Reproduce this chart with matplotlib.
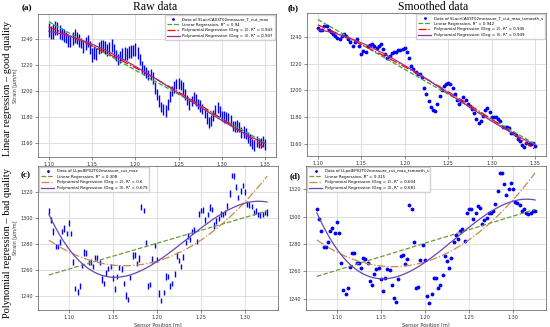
import numpy as np
import matplotlib
matplotlib.use("Agg")
import matplotlib.pyplot as plt
from matplotlib.lines import Line2D

# sensor positions [m]
pos_good = np.linspace(1.10, 1.35, 101)
pos_bad = np.linspace(1.0775, 1.325, 100)

# time-smoothed strain per position, good sample [µm/m]
good_smooth = [
    1246.5, 1245, 1245.5, 1248.5, 1248, 1245, 1243.5, 1242.5, 1241, 1239,
    1238.5, 1240.5, 1242, 1240.5, 1238.5, 1236.5, 1233.5, 1236, 1238.5, 1233,
    1227.5, 1229.5, 1228.5, 1233, 1234, 1234.5, 1233, 1231.5, 1233, 1234.5,
    1231, 1227, 1224, 1226, 1228, 1229, 1228.5, 1230, 1230, 1231,
    1232, 1229, 1224, 1218.5, 1216, 1214, 1212, 1212.5, 1210, 1202,
    1197, 1192, 1187.5, 1185.5, 1184.5, 1189.5, 1195.5, 1200, 1203, 1205,
    1205.5, 1204.5, 1202, 1197, 1193, 1190, 1192, 1195, 1193, 1190,
    1188, 1186, 1183, 1179, 1175.5, 1177, 1181, 1185, 1187, 1184,
    1180.5, 1180, 1180, 1179, 1177, 1173, 1172.5, 1173, 1172, 1168,
    1168.5, 1167, 1164, 1162, 1159, 1158, 1161, 1160, 1160, 1161,
    1158.5,
]

# half height of each raw cluster (all samples at one position), good sample
good_raw_half = [
    5.5, 5, 6, 5.5, 5, 5.5, 4.5, 5, 4.5, 5,
    4.5, 5, 5.5, 4.5, 5, 4, 4.5, 5, 4.5, 5,
    5.5, 5, 4.5, 4.5, 5, 4.5, 5, 4.5, 4.5, 5,
    5, 4.5, 4, 4.5, 4.5, 5, 4.5, 4.5, 5, 4.5,
    5, 4.5, 4, 4.5, 4, 4.5, 4, 4, 4.5, 4.5,
    4, 4.5, 4, 4.5, 4.5, 4, 4.5, 4, 4.5, 4,
    4.5, 4, 4.5, 4, 4, 4.5, 4, 4, 4.5, 4,
    4.5, 4, 4, 4.5, 4, 4, 4.5, 4, 4.5, 4,
    4, 4.5, 4, 4, 4.5, 4, 4, 4.5, 4, 4,
    4.5, 4, 4, 4.5, 4, 4, 4.5, 4, 4, 4.5,
    4,
]

# time-smoothed strain per position, bad sample [µm/m]
bad_smooth = [
    1305.4, 1298.5, 1289.5, 1278, 1278, 1281.5, 1289.5, 1292, 1288.3, 1296,
    1287.8, 1266.3, 1246.3, 1243.2, 1248, 1263.4, 1273.7, 1273.2, 1265.9, 1266.3,
    1262.7, 1270, 1269.3, 1265.9, 1252.9, 1249.8, 1257.8, 1261.5, 1262.7, 1254.1,
    1245.6, 1255.4, 1262, 1261, 1249.8, 1240.7, 1237.6, 1254.6, 1271.2, 1271.7,
    1265.1, 1268.8, 1308.3, 1305.4, 1281.5, 1248, 1248.8, 1268.3, 1279, 1268.3,
    1242.4, 1236.6, 1243.2, 1255.4, 1255.4, 1248, 1249.8, 1257.1, 1271.2, 1267.6,
    1262.7, 1270, 1281.5, 1286.3, 1283.4, 1289.5, 1290.7, 1282.2, 1302.9, 1305.9,
    1305.9, 1298.5, 1302.4, 1307.8, 1306.6, 1294.4, 1297.6, 1299.3, 1302.9, 1302.9,
    1304.1, 1309, 1318.8, 1332.2, 1332.2, 1323.7, 1315.6, 1320.5, 1324.9, 1320,
    1310.7, 1309.8, 1308.5, 1304.1, 1305.4, 1302.9, 1302.2, 1302.9, 1304.1, 1304.1,
]

bad_raw_half = [
    2.5, 2, 2.5, 2, 2, 2.5, 2, 2.5, 2, 2.5,
    2, 2.5, 2, 2.5, 2.5, 2, 2.5, 2, 2, 2.5,
    2, 2, 2.5, 2, 2.5, 2, 2.5, 2, 2, 2.5,
    2.5, 2, 2, 2.5, 2, 2.5, 2, 2, 2.5, 2,
    2, 2.5, 2.5, 2, 2, 2.5, 2, 2.5, 2, 2,
    2.5, 2, 2, 2.5, 2, 2.5, 2, 2, 2.5, 2,
    2, 2.5, 2, 2.5, 2, 2, 2.5, 2, 2.5, 2,
    2.5, 2, 2, 2.5, 2, 2.5, 2, 2, 2.5, 2,
    2, 2.5, 2.5, 2, 2.5, 2, 2, 2.5, 2, 2.5,
    2, 2.5, 2, 2, 2.5, 2, 2.5, 2, 2, 2.5,
]

names = ["SLacrCA03T02measure_T_cut_max",
         "SLacrCA03T02measure_T_cut_max_tsmooth_s",
         "LLpolEP02T02measure_cut_max",
         "LLpolEP02T02measure_cut_max_tsmooth_s"]
r2_values = [["0.94", "0.943", "0.947"],
             ["0.942", "0.945", "0.949"],
             ["0.308", "0.6", "0.679"],
             ["0.315", "0.604", "0.681"]]

col_titles = ["Raw data", "Smoothed data"]
row_titles = ["Linear regression – good quality",
              "Polynomial regression – bad quality"]

SERIF = ["Liberation Serif", "DejaVu Serif"]
plt.rcParams["font.family"] = ["DejaVu Sans"]


def draw_panel(ax, x, y, half, name, r2, cols, legend_loc):
    x = np.asarray(x)
    y = np.asarray(y, dtype=float)
    if half is not None:
        half = np.asarray(half)
        ax.vlines(x, y - half, y + half, color="blue", lw=1.0, zorder=3)
    else:
        ax.plot(x, y, ".", color="blue", ms=3.5, zorder=3)
    xs = np.linspace(x.min(), x.max(), 300)
    styles = ["--", "-.", "-"]
    labels = ["Linear Regression, R² = %s" % r2[0],
              "Polynomial Regression (Deg = 2), R² = %s" % r2[1],
              "Polynomial Regression (Deg = 3), R² = %s" % r2[2]]
    handles = [Line2D([], [], ls="none", marker=".", ms=2, color="blue")]
    for deg in range(1, 4):
        coef = np.polyfit(x, y, deg)
        ln, = ax.plot(xs, np.polyval(coef, xs), ls=styles[deg - 1],
                      color=cols[deg - 1], lw=0.9, zorder=4)
        handles.append(ln)
    ax.legend(handles, ["Data of " + name] + labels, loc=legend_loc,
              fontsize=2.9, handlelength=3.2, handletextpad=0.6,
              borderpad=0.5, labelspacing=0.4, borderaxespad=0.3,
              edgecolor="#cccccc", framealpha=0.9, fancybox=False)
    ax.grid(True, color="#d9d9d9", lw=0.6)
    ax.set_axisbelow(True)
    ax.tick_params(labelsize=3.5, length=2, width=0.4, pad=1.5,
                   colors="#333333")
    for s in ax.spines.values():
        s.set_linewidth(0.5)
        s.set_color("#555555")


fig = plt.figure(figsize=(5.5, 3.27), dpi=100)
W, H = 550.0, 327.0


def rect(l, r, t, b):
    return [l / W, 1 - b / H, (r - l) / W, (b - t) / H]


ax_a = fig.add_axes(rect(38, 276, 14, 157))
ax_b = fig.add_axes(rect(307, 546, 13, 156))
ax_c = fig.add_axes(rect(38, 278, 166, 310))
ax_d = fig.add_axes(rect(306, 546, 166, 310))

good_cols = ["#33aa33", "red", "#9a2a9a"]
bad_cols = ["#6f9a35", "#c98a4b", "#6a45b0"]

draw_panel(ax_a, pos_good, good_smooth, good_raw_half, names[0], r2_values[0],
           good_cols, "upper right")
draw_panel(ax_b, pos_good, good_smooth, None, names[1], r2_values[1],
           good_cols, "upper right")
draw_panel(ax_c, pos_bad, bad_smooth, bad_raw_half, names[2], r2_values[2],
           bad_cols, "upper left")
draw_panel(ax_d, pos_bad, bad_smooth, None, names[3], r2_values[3],
           bad_cols, "upper left")

for ax in (ax_a, ax_b):
    ax.set_yticks([1160, 1180, 1200, 1220, 1240])
    ax.set_xticks([1.10, 1.15, 1.20, 1.25, 1.30, 1.35])
for ax in (ax_c, ax_d):
    ax.set_yticks([1240, 1260, 1280, 1300, 1320])
    ax.set_xticks([1.10, 1.15, 1.20, 1.25, 1.30])
    ax.set_xlabel("Sensor Position [m]", fontsize=3.5, labelpad=1.5,
                  color="#333333")
for ax in (ax_a, ax_c):
    ax.set_ylabel("Strain [µm/m]", fontsize=3.5, labelpad=2, color="#333333")

fig.text(155 / W, 1 - 7 / H, col_titles[0], ha="center", va="center",
         fontsize=8.5, family=SERIF)
fig.text(433 / W, 1 - 7 / H, col_titles[1], ha="center", va="center",
         fontsize=8.5, family=SERIF)
fig.text(8 / W, 1 - 88 / H, row_titles[0], ha="center", va="center",
         rotation=90, fontsize=7.5, family=SERIF)
fig.text(8 / W, 1 - 243 / H, row_titles[1], ha="center", va="center",
         rotation=90, fontsize=7.5, family=SERIF)
for lab, xx, yy in [("(a)", 27, 8), ("(b)", 293, 8),
                    ("(c)", 26, 175), ("(d)", 295, 176)]:
    fig.text(xx / W, 1 - yy / H, lab, ha="center", va="center",
             fontsize=6.5, fontweight="bold", family=SERIF)

fig.savefig("out.png", dpi=100)
